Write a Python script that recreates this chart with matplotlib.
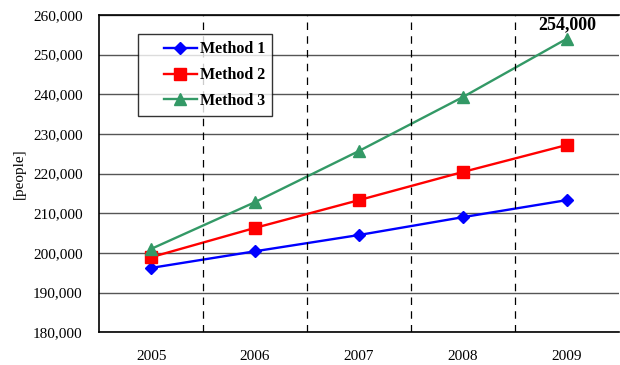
import matplotlib.pyplot as plt
from matplotlib.ticker import FuncFormatter
from matplotlib.legend_handler import HandlerLine2D
from matplotlib.lines import Line2D

plt.rcParams['font.family'] = ['Liberation Serif', 'DejaVu Serif']

years = ['2005', '2006', '2007', '2008', '2009']
method1 = [196200, 200400, 204500, 209000, 213300]
method2 = [198900, 206300, 213300, 220400, 227200]
method3 = [201000, 212800, 225700, 239300, 254000]

fig = plt.figure(figsize=(6.2, 3.65), dpi=100)
ax = fig.add_axes([0.16, 0.09, 0.838, 0.869])

x = range(len(years))
ax.plot(x, method1, color='#0000ff', marker='D', markersize=6, lw=1.7, label='Method 1')
ax.plot(x, method2, color='#ff0000', marker='s', markersize=8, lw=1.7, label='Method 2')
ax.plot(x, method3, color='#339966', marker='^', markersize=8, lw=1.7, label='Method 3')

ax.set_xlim(-0.5, len(years) - 0.5)
ax.set_ylim(180000, 260000)
ax.set_yticks(range(180000, 260001, 10000))
ax.yaxis.set_major_formatter(FuncFormatter(lambda v, p: f'{int(v):,}'))
ax.set_xticks(list(x))
ax.set_xticklabels(years)
ax.tick_params(axis='y', length=0, labelsize=11, pad=12)
ax.tick_params(axis='x', length=0, labelsize=11, pad=13)

ax.grid(axis='y', color='#555555', lw=1)
for b in range(len(years) - 1):
    ax.axvline(b + 0.5, color='black', lw=0.9, ls=(0, (6, 5)))
ax.set_axisbelow(True)

for s in ['left', 'bottom', 'top']:
    ax.spines[s].set_linewidth(1.2)
ax.spines['right'].set_visible(False)

ax.set_ylabel('[people]', fontsize=11, labelpad=5)

ax.annotate(f'{method3[-1]:,}', (4, method3[-1]), xytext=(0, 4), textcoords='offset points',
            ha='center', va='bottom', fontsize=13, fontweight='bold')

leg = ax.legend(loc='upper left', bbox_to_anchor=(0.06, 0.965), frameon=True, fancybox=False,
                edgecolor='black', prop={'weight': 'bold', 'size': 11.5},
                handlelength=3.2, handletextpad=0.2, borderpad=0.45, labelspacing=0.62,
                handler_map={Line2D: HandlerLine2D(xpad=1.15)})
leg.get_frame().set_linewidth(1)

fig.savefig('out.png')
